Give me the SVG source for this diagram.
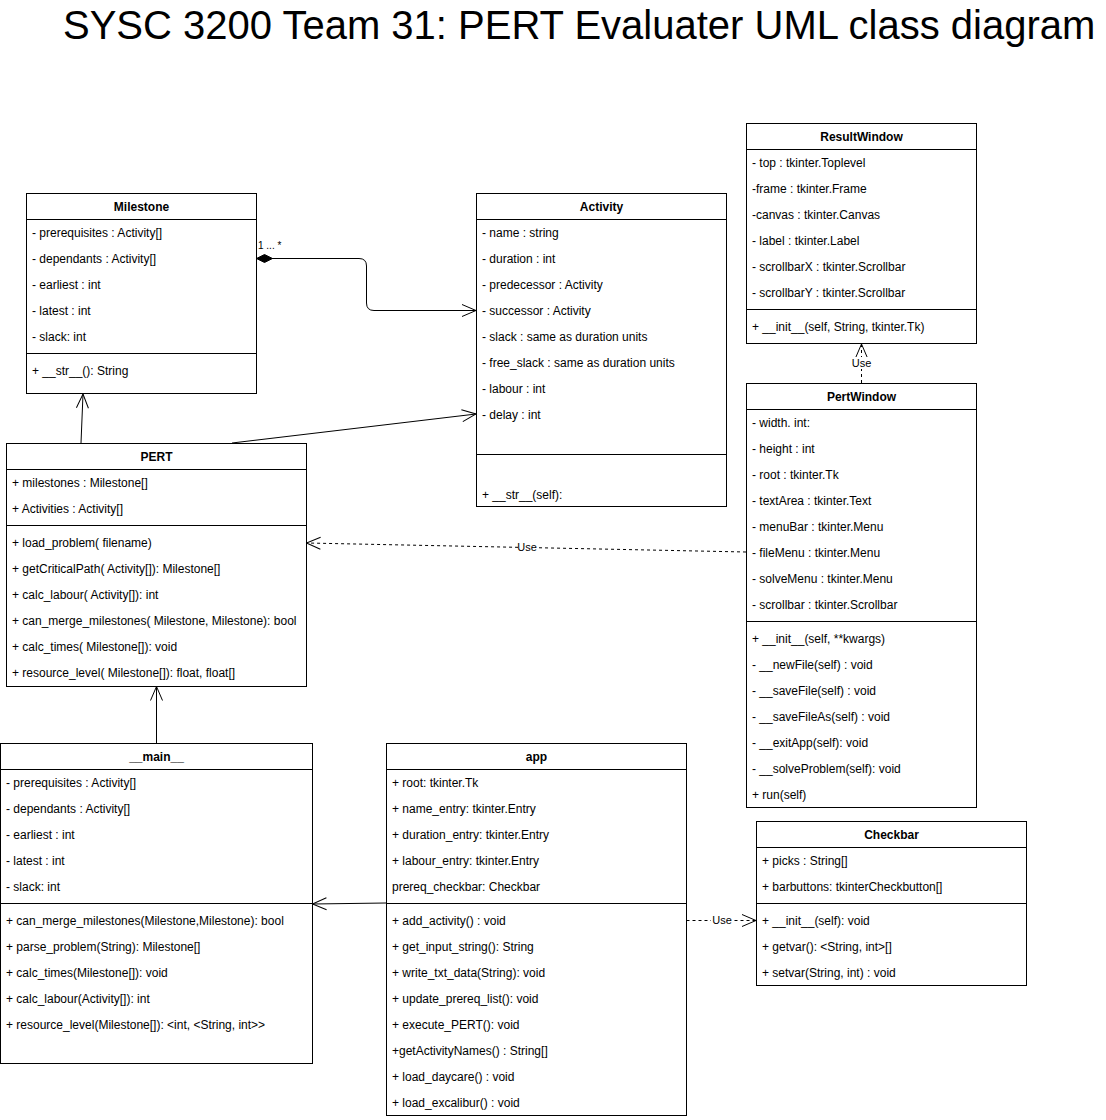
<svg xmlns="http://www.w3.org/2000/svg" width="1106" height="1120" viewBox="0 0 1106 1120">
<style>
text{font-family:"Liberation Sans",Arial,Helvetica,sans-serif;font-size:12px;fill:#000}
.t{font-weight:bold;text-anchor:middle}
.box{fill:#fff;stroke:#000;stroke-width:1}
.ln{stroke:#000;stroke-width:1;fill:none}
.e{stroke:#000;stroke-width:1;fill:none}
.d{stroke-dasharray:3 3}
.lbl{font-size:11px;text-anchor:middle}
.title{font-size:40px}
</style>
<defs>
<marker id="open" markerUnits="userSpaceOnUse" markerWidth="18" markerHeight="16" viewBox="-16 -8 18 16" refX="0" refY="0" orient="auto">
<path d="M-14,-6 L0,0 L-14,6" fill="none" stroke="#000" stroke-width="1"/>
</marker>
</defs>
<rect width="1106" height="1120" fill="#fff"/>
<text class="title" x="63" y="39">SYSC 3200 Team 31: PERT Evaluater UML class diagram</text>

<g id="connectors">
<path class="e" d="M272,258.5 L359,258.5 Q366.5,258.5 366.5,266 L366.5,303 Q366.5,310.5 374,310.5 L476,310.5" marker-end="url(#open)"/>
<polygon points="256.5,258.5 264.5,254.5 272.5,258.5 264.5,262.5" fill="#000" stroke="#000"/>
<text x="258" y="249" style="font-size:10px">1 ... *</text>
<line class="e" x1="232" y1="443" x2="476" y2="414" marker-end="url(#open)"/>
<line class="e" x1="81" y1="443" x2="83" y2="394" marker-end="url(#open)"/>
<line class="e" x1="156.5" y1="743" x2="156.5" y2="686.5" marker-end="url(#open)"/>
<line class="e" x1="386" y1="903" x2="312.5" y2="904" marker-end="url(#open)"/>
<line class="e d" x1="746" y1="552" x2="306.5" y2="543" marker-end="url(#open)"/>
<rect x="518" y="541" width="20" height="12" fill="#fff"/>
<text class="lbl" x="527" y="551">Use</text>
<line class="e d" x1="861.5" y1="383" x2="861.5" y2="344" marker-end="url(#open)"/>
<rect x="851" y="357" width="21" height="12" fill="#fff"/>
<text class="lbl" x="861.5" y="367">Use</text>
<line class="e d" x1="686.5" y1="920.5" x2="756" y2="920.5" marker-end="url(#open)"/>
<rect x="711" y="914" width="22" height="12" fill="#fff"/>
<text class="lbl" x="722" y="924">Use</text>
</g>

<g id="Milestone">
<rect class="box" x="26.5" y="193.5" width="230" height="200"/>
<line class="ln" x1="26.5" y1="219.5" x2="256.5" y2="219.5"/>
<line class="ln" x1="26.5" y1="353.5" x2="256.5" y2="353.5"/>
<text class="t" x="141.5" y="211">Milestone</text>
<text x="32" y="237">- prerequisites : Activity[]</text>
<text x="32" y="263">- dependants : Activity[]</text>
<text x="32" y="289">- earliest : int</text>
<text x="32" y="315">- latest : int</text>
<text x="32" y="341">- slack: int</text>
<text x="32" y="375">+ __str__(): String</text>
</g>

<g id="Activity">
<rect class="box" x="476.5" y="193.5" width="250" height="313"/>
<line class="ln" x1="476.5" y1="219.5" x2="726.5" y2="219.5"/>
<line class="ln" x1="476.5" y1="454.5" x2="726.5" y2="454.5"/>
<text class="t" x="601.5" y="211">Activity</text>
<text x="482" y="237">- name : string</text>
<text x="482" y="263">- duration : int</text>
<text x="482" y="289">- predecessor : Activity</text>
<text x="482" y="315">- successor : Activity</text>
<text x="482" y="341">- slack : same as duration units</text>
<text x="482" y="367">- free_slack : same as duration units</text>
<text x="482" y="393">- labour : int</text>
<text x="482" y="419">- delay : int</text>
<text x="482" y="499">+ __str__(self):</text>
</g>

<g id="ResultWindow">
<rect class="box" x="746.5" y="123.5" width="230" height="220"/>
<line class="ln" x1="746.5" y1="149.5" x2="976.5" y2="149.5"/>
<line class="ln" x1="746.5" y1="309.5" x2="976.5" y2="309.5"/>
<text class="t" x="861.5" y="141">ResultWindow</text>
<text x="752" y="167">- top : tkinter.Toplevel</text>
<text x="752" y="193">-frame : tkinter.Frame</text>
<text x="752" y="219">-canvas : tkinter.Canvas</text>
<text x="752" y="245">- label : tkinter.Label</text>
<text x="752" y="271">- scrollbarX : tkinter.Scrollbar</text>
<text x="752" y="297">- scrollbarY : tkinter.Scrollbar</text>
<text x="752" y="331">+ __init__(self, String, tkinter.Tk)</text>
</g>

<g id="PertWindow">
<rect class="box" x="746.5" y="383.5" width="230" height="424"/>
<line class="ln" x1="746.5" y1="409.5" x2="976.5" y2="409.5"/>
<line class="ln" x1="746.5" y1="621.5" x2="976.5" y2="621.5"/>
<text class="t" x="861.5" y="401">PertWindow</text>
<text x="752" y="427">- width. int:</text>
<text x="752" y="453">- height : int</text>
<text x="752" y="479">- root : tkinter.Tk</text>
<text x="752" y="505">- textArea : tkinter.Text</text>
<text x="752" y="531">- menuBar : tkinter.Menu</text>
<text x="752" y="557">- fileMenu : tkinter.Menu</text>
<text x="752" y="583">- solveMenu : tkinter.Menu</text>
<text x="752" y="609">- scrollbar : tkinter.Scrollbar</text>
<text x="752" y="643">+ __init__(self, **kwargs)</text>
<text x="752" y="669">- __newFile(self) : void</text>
<text x="752" y="695">- __saveFile(self) : void</text>
<text x="752" y="721">- __saveFileAs(self) : void</text>
<text x="752" y="747">- __exitApp(self): void</text>
<text x="752" y="773">- __solveProblem(self): void</text>
<text x="752" y="799">+ run(self)</text>
</g>

<g id="PERT">
<rect class="box" x="6.5" y="443.5" width="300" height="243"/>
<line class="ln" x1="6.5" y1="469.5" x2="306.5" y2="469.5"/>
<line class="ln" x1="6.5" y1="525.5" x2="306.5" y2="525.5"/>
<text class="t" x="156.5" y="461">PERT</text>
<text x="12" y="487">+ milestones : Milestone[]</text>
<text x="12" y="513">+ Activities : Activity[]</text>
<text x="12" y="547">+ load_problem( filename)</text>
<text x="12" y="573">+ getCriticalPath( Activity[]): Milestone[]</text>
<text x="12" y="599">+ calc_labour( Activity[]): int</text>
<text x="12" y="625">+ can_merge_milestones( Milestone, Milestone): bool</text>
<text x="12" y="651">+ calc_times( Milestone[]): void</text>
<text x="12" y="677">+ resource_level( Milestone[]): float, float[]</text>
</g>

<g id="main">
<rect class="box" x="0.5" y="743.5" width="312" height="320"/>
<line class="ln" x1="0.5" y1="769.5" x2="312.5" y2="769.5"/>
<line class="ln" x1="0.5" y1="903.5" x2="312.5" y2="903.5"/>
<text class="t" x="156.5" y="761">__main__</text>
<text x="6" y="787">- prerequisites : Activity[]</text>
<text x="6" y="813">- dependants : Activity[]</text>
<text x="6" y="839">- earliest : int</text>
<text x="6" y="865">- latest : int</text>
<text x="6" y="891">- slack: int</text>
<text x="6" y="925">+ can_merge_milestones(Milestone,Milestone): bool</text>
<text x="6" y="951">+ parse_problem(String): Milestone[]</text>
<text x="6" y="977">+ calc_times(Milestone[]): void</text>
<text x="6" y="1003">+ calc_labour(Activity[]): int</text>
<text x="6" y="1029">+ resource_level(Milestone[]): &lt;int, &lt;String, int&gt;&gt;</text>
</g>

<g id="app">
<rect class="box" x="386.5" y="743.5" width="300" height="372"/>
<line class="ln" x1="386.5" y1="769.5" x2="686.5" y2="769.5"/>
<line class="ln" x1="386.5" y1="903.5" x2="686.5" y2="903.5"/>
<text class="t" x="536.5" y="761">app</text>
<text x="392" y="787">+ root: tkinter.Tk</text>
<text x="392" y="813">+ name_entry: tkinter.Entry</text>
<text x="392" y="839">+ duration_entry: tkinter.Entry</text>
<text x="392" y="865">+ labour_entry: tkinter.Entry</text>
<text x="392" y="891">prereq_checkbar: Checkbar</text>
<text x="392" y="925">+ add_activity() : void</text>
<text x="392" y="951">+ get_input_string(): String</text>
<text x="392" y="977">+ write_txt_data(String): void</text>
<text x="392" y="1003">+ update_prereq_list(): void</text>
<text x="392" y="1029">+ execute_PERT(): void</text>
<text x="392" y="1055">+getActivityNames() : String[]</text>
<text x="392" y="1081">+ load_daycare() : void</text>
<text x="392" y="1107">+ load_excalibur() : void</text>
</g>

<g id="Checkbar">
<rect class="box" x="756.5" y="821.5" width="270" height="164"/>
<line class="ln" x1="756.5" y1="847.5" x2="1026.5" y2="847.5"/>
<line class="ln" x1="756.5" y1="903.5" x2="1026.5" y2="903.5"/>
<text class="t" x="891.5" y="839">Checkbar</text>
<text x="762" y="865">+ picks : String[]</text>
<text x="762" y="891">+ barbuttons: tkinterCheckbutton[]</text>
<text x="762" y="925">+ __init__(self): void</text>
<text x="762" y="951">+ getvar(): &lt;String, int&gt;[]</text>
<text x="762" y="977">+ setvar(String, int) : void</text>
</g>
</svg>
